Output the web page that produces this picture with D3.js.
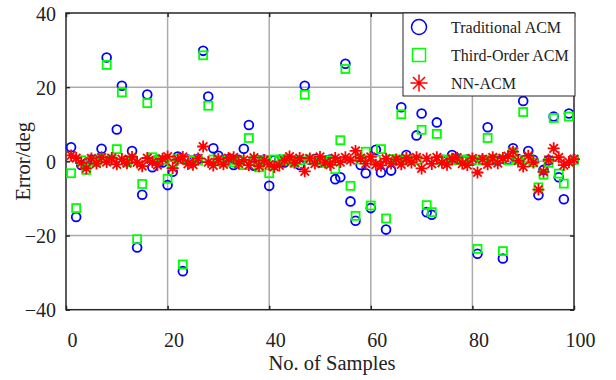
<!DOCTYPE html>
<html>
<head>
<meta charset="utf-8">
<script src="https://cdn.jsdelivr.net/npm/d3@7"></script>
<style>
  body { margin: 0; background: #fff; }
  svg { display: block; }
  text { font-family: "Liberation Serif", "Times New Roman", serif; }
</style>
</head>
<body>
<div id="chart"></div>
<script>
// Error of each sample (deg), samples 1..100
const samples = d3.range(1, 101);
const traditional = [
  3.8, -15, -1.0, -0.5, 0.5, 0.3, 3.4, 28, 0.4, 8.6,
  20.4, 0.2, 2.8, -23.2, -9, 18, -1.6, 0.4, -0.3, -6.4,
  -2.8, 1.3, -29.6, 0.5, -0.2, 0.6, 29.8, 17.5, 3.5, 1.5,
  0.3, 0.6, -1.0, 0.4, 3.4, 9.8, -1.2, 0.3, 0.5, -6.6,
  0.3, 0.4, -0.3, 0.5, 0.2, -1.0, 20.4, 0.4, 0.6, -0.3,
  0.3, 0.5, -4.8, -4.3, 26.3, -10.8, -16, -1.0, -3.2, -12.6,
  3.1, -3.0, -18.4, -2.5, 0.3, 14.6, 1.7, 0.4, 7.0, 12.9,
  -13.7, -14.4, 10.5, 0.4, 0.2, 1.7, 0.8, 0.3, 0.5, 0.2,
  -24.9, 0.4, 9.2, 0.4, 0.3, -26.2, 0.5, 3.5, 0.6, 16.3,
  2.8, 0.4, -9.1, -2.3, 0.3, 12.1, -4.3, -10.2, 12.9, 0.5
];
const thirdOrder = [
  -3.2, -12.6, 0.3, -2.3, 0.2, -0.2, 0.8, 26, 0.5, 3.3,
  18.6, -0.3, 0.5, -21, -6.1, 15.7, 1.1, 0.3, 0.4, -4.7,
  -1.0, 0.6, -27.8, 0.3, 0.4, 0.2, 28.6, 15, 0.5, 0.3,
  -0.2, 0.4, -0.3, 0.2, -1.0, 6.3, 0.2, -1.6, 0.4, -3.2,
  0.5, 0.2, 0.6, 0.3, -0.4, 0.3, 18, 0.5, 0.2, 0.4,
  -0.4, 0.3, -2.1, 5.7, 24.9, -6.6, -14.7, 0.5, 2.6, -11.9,
  0.4, 3.3, -15.4, 0.6, 0.5, 12.7, 0.5, 0.3, 0.4, 8.5,
  -11.8, -13.7, 7.4, 0.3, 0.5, 0.4, 0.3, 0.5, 0.2, 0.4,
  -23.6, 0.3, 6.3, 0.5, 0.6, -24.2, 0.3, 2.5, 0.4, 13.3,
  0.5, -0.3, -7, -3.6, -0.4, 11.7, -3.3, -6, 12.1, 0.4
];
const nnAcm = [
  1.6, 0.9, -0.4, -1.9, 0.8, -0.6, 1.1, -0.2, 0.9, -0.8,
  0.6, -0.5, 1.2, -0.3, -1.3, 0.9, -0.2, -1.0, 0.7, 1.3,
  -1.8, 0.5, 1.2, -0.7, -0.9, 0.8, 4.0, -0.2, -1.1, 0.6,
  -0.8, 0.9, 1.1, -0.6, 0.4, -1.0, 1.0, -1.3, 0.3, -0.9,
  -1.5, -1.1, 0.2, 1.3, -0.4, 0.9, -2.7, 0.8, -0.6, 1.2,
  -0.3, -0.9, 0.9, -0.2, 1.1, 0.3, 2.8, 0.9, -0.6, 1.2,
  -0.9, -1.1, 0.7, -0.6, 0.5, -0.8, 0.9, -0.3, 1.1, -1.9,
  0.8, -0.7, 1.1, -0.4, -0.9, 0.7, 1.0, -0.6, -1.0, 0.8,
  -3.0, 0.6, -0.8, 1.1, -0.5, 0.9, 1.4, 2.6, 0.2, -1.4,
  1.5, -0.3, -7.6, -2.8, 0.4, 3.5, 1.1, -1.0, -0.2, 0.6
];
const xTicks = [0, 20, 40, 60, 80, 100];
const yTicks = [-40, -20, 0, 20, 40];
const legendLabels = ["Traditional ACM", "Third-Order ACM", "NN-ACM"];

const width = 616, height = 380;
const plot = { left: 66, right: 574, top: 13, bottom: 309.7 };
const serif = "Liberation Serif, Times New Roman, serif";

const svg = d3.select("#chart").append("svg")
  .attr("width", width)
  .attr("height", height)
  .attr("font-family", serif);

const x = d3.scaleLinear().domain([0, 100]).range([plot.left, plot.right]);
const y = d3.scaleLinear().domain([-40, 40]).range([plot.bottom, plot.top]);

// grid
svg.append("g").selectAll("line.vg")
  .data(xTicks.slice(1, -1)).enter().append("line")
  .attr("x1", d => x(d)).attr("x2", d => x(d))
  .attr("y1", plot.top).attr("y2", plot.bottom)
  .attr("stroke", "#ababab").attr("stroke-width", 1.5);
svg.append("g").selectAll("line.hg")
  .data(yTicks.slice(1, -1)).enter().append("line")
  .attr("x1", plot.left).attr("x2", plot.right)
  .attr("y1", d => y(d)).attr("y2", d => y(d))
  .attr("stroke", "#ababab").attr("stroke-width", 1.5);

// axes (ticks inward on all four sides)
const axisColor = "#262626";
function styleAxis(g) {
  g.attr("font-family", serif).attr("font-size", 20);
  g.select(".domain").remove();
  g.selectAll(".tick line").attr("stroke", axisColor).attr("stroke-width", 1.5);
  g.selectAll(".tick text").attr("fill", "#222")
    .attr("font-family", serif).attr("font-size", 20);
}
svg.append("g")
  .attr("transform", `translate(0,${plot.bottom})`)
  .call(d3.axisBottom(x).tickValues(xTicks).tickSize(-4).tickPadding(23))
  .call(styleAxis)
  .call(g => g.selectAll(".tick text").attr("dx", 6));
svg.append("g")
  .attr("transform", `translate(0,${plot.top})`)
  .call(d3.axisTop(x).tickValues(xTicks).tickSize(-4).tickFormat(""))
  .call(styleAxis);
svg.append("g")
  .attr("transform", `translate(${plot.left},0)`)
  .call(d3.axisLeft(y).tickValues(yTicks).tickSize(-4).tickPadding(10))
  .call(styleAxis)
  .call(g => g.selectAll(".tick text").attr("dy", "0.35em"));
svg.append("g")
  .attr("transform", `translate(${plot.right},0)`)
  .call(d3.axisRight(y).tickValues(yTicks).tickSize(-4).tickFormat(""))
  .call(styleAxis);

svg.append("rect")
  .attr("x", plot.left).attr("y", plot.top)
  .attr("width", plot.right - plot.left).attr("height", plot.bottom - plot.top)
  .attr("fill", "none").attr("stroke", axisColor).attr("stroke-width", 1.5);

// axis titles
svg.append("text")
  .attr("x", 332).attr("y", 370)
  .attr("text-anchor", "middle").attr("font-size", 20.5).attr("fill", "#222")
  .attr("font-family", serif)
  .text("No. of Samples");
svg.append("text")
  .attr("transform", `translate(30,${(plot.top + plot.bottom) / 2}) rotate(-90)`)
  .attr("text-anchor", "middle").attr("font-size", 20.5).attr("fill", "#222")
  .attr("font-family", serif)
  .text("Error/deg");

// markers
const blue = "#0000ff", green = "#00ff00", red = "#ff0000";

function starPath(r) {
  const d = r * Math.SQRT1_2;
  return `M${-r},0L${r},0M0,${-r}L0,${r}M${-d},${-d}L${d},${d}M${-d},${d}L${d},${-d}`;
}

svg.append("g").selectAll("circle")
  .data(samples).enter().append("circle")
  .attr("cx", (d, i) => x(d)).attr("cy", (d, i) => y(traditional[i]))
  .attr("r", 4.4)
  .attr("fill", "none").attr("stroke", blue).attr("stroke-width", 1.8);

svg.append("g").selectAll("rect")
  .data(samples).enter().append("rect")
  .attr("x", d => x(d) - 4).attr("y", (d, i) => y(thirdOrder[i]) - 4)
  .attr("width", 8).attr("height", 8)
  .attr("fill", "none").attr("stroke", green).attr("stroke-width", 1.8);

svg.append("g").selectAll("path")
  .data(samples).enter().append("path")
  .attr("transform", (d, i) => `translate(${x(d)},${y(nnAcm[i])})`)
  .attr("d", starPath(6))
  .attr("fill", "none").attr("stroke", red).attr("stroke-width", 1.8);

// legend
const legend = svg.append("g");
legend.append("rect")
  .attr("x", 403).attr("y", plot.top).attr("width", 172).attr("height", 83)
  .attr("fill", "#fff").attr("stroke", axisColor).attr("stroke-width", 1);

const rows = legend.selectAll("g.row")
  .data(legendLabels).enter().append("g")
  .attr("transform", (d, i) => `translate(419,${27 + i * 28})`);
rows.filter((d, i) => i === 0).append("circle")
  .attr("r", 7.5).attr("fill", "none").attr("stroke", blue).attr("stroke-width", 1.5);
rows.filter((d, i) => i === 1).append("rect")
  .attr("x", -6.5).attr("y", -6.5).attr("width", 13).attr("height", 13)
  .attr("fill", "none").attr("stroke", green).attr("stroke-width", 1.5);
rows.filter((d, i) => i === 2).append("path")
  .attr("d", starPath(8.5))
  .attr("fill", "none").attr("stroke", red).attr("stroke-width", 1.5);
rows.append("text")
  .attr("x", 32).attr("y", 5.5)
  .attr("font-size", 16).attr("fill", "#222")
  .attr("font-family", serif)
  .text(d => d);
</script>
</body>
</html>
